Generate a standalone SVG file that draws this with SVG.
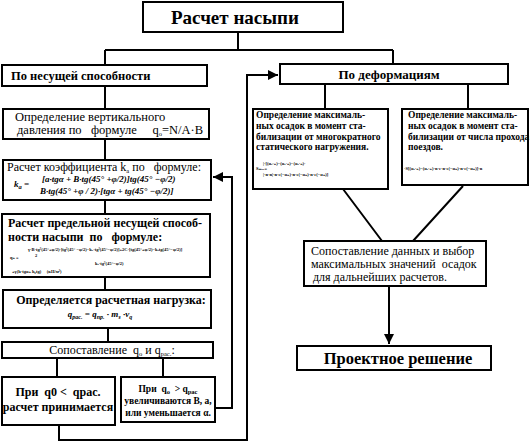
<svg xmlns="http://www.w3.org/2000/svg" width="530" height="443" viewBox="0 0 530 443" font-family="'Liberation Serif', 'DejaVu Serif', serif">
<style>
.b{fill:#fff;stroke:#000;stroke-width:2}
.c{fill:none;stroke:#000;stroke-width:2}
text{font-family:'Liberation Serif','DejaVu Serif',serif;fill:#000}
.t{font-size:12.5px}
.bd{font-weight:bold}
.f{font-style:italic;font-weight:bold;font-size:9px}
.tiny{font-size:4.5px;font-weight:bold}
.s{font-size:9.5px;font-weight:bold}
.sub{font-size:6.5px}
</style>
<defs>
<marker id="ar" viewBox="0 0 10 10" refX="10" refY="5" markerWidth="5" markerHeight="5" orient="auto" markerUnits="strokeWidth"><path d="M0,0 L10,5 L0,10 z" fill="#000"/></marker>
</defs>
<rect width="530" height="443" fill="#fff"/>
<g id="connectors">
<path class="c" d="M238,32 V50 M105,50 H393 M105,50 V65 M393,50 V64"/>
<path class="c" d="M105,86 V109 M105,139 V160 M105,200 V214 M105,277 V290 M108,328 V342 M57,358 V377 M163,358 V377"/>
<path class="c" d="M215,408 H232 V177 H213" marker-end="url(#ar)"/>
<path class="c" d="M59,425 V440 H247 V75 H278" marker-end="url(#ar)"/>
<path class="c" d="M325,84 V109 M468,84 V109"/>
<path class="c" d="M343,189 L382,241 M463,186 L413,241"/>
<path class="c" d="M389,286 V344" marker-end="url(#ar)"/>
</g>
<g id="n-main"><rect class="b" x="143" y="2" width="200" height="30"/><text x="235" y="24" text-anchor="middle" font-size="19" class="bd">Расчет насыпи</text></g>
<g id="n-bearing"><rect class="b" x="2" y="65" width="205" height="21"/><text x="11" y="80" font-size="12.5" class="bd">По несущей способности</text></g>
<g id="n-deform"><rect class="b" x="280" y="64" width="228" height="20"/><text x="389" y="79" text-anchor="middle" font-size="13" class="bd">По деформациям</text></g>
<g id="n-vert"><rect class="b" x="3" y="109" width="206" height="30"/>
<text x="15" y="121" class="t">Определение вертикального</text>
<text x="17" y="134" class="t" xml:space="preserve">давления по   формуле     q<tspan class="sub" dy="1.5">o</tspan><tspan dy="-1.5">=N/A·B</tspan></text></g>
<g id="n-koef"><rect class="b" x="3" y="160" width="208" height="40"/>
<text x="7" y="171" font-size="12" xml:space="preserve">Расчет коэффициента k<tspan class="sub" dy="1.5">a</tspan><tspan dy="-1.5"> по   формуле:</tspan></text>
<text x="14" y="187" class="f">k<tspan class="sub" dy="1.5">a</tspan><tspan dy="-1.5"> =</tspan></text>
<text x="42" y="182" class="f">[a·tgα + B·tg(45° +φ/2)]tg(45° −φ/2)</text>
<text x="40" y="194" class="f">B·tg(45° +φ / 2)·[tgα + tg(45° −φ/2)]</text></g>
<g id="n-limit"><rect class="b" x="2" y="214" width="208" height="63"/>
<text x="8" y="227" class="bd" font-size="12">Расчет предельной несущей способ-</text>
<text x="8" y="241" class="bd" font-size="12" xml:space="preserve">ности насыпи  по   формуле:</text>
<text x="28" y="251" class="tiny">γ·B·tg²(45°+φ/2)·[tg²(45° −φ/2)−kₐ·tg²(45°−φ/2)]+2C·[tg(45°+φ/2)−kₐtg(45°−φ/2)]</text>
<text x="35" y="257" class="tiny">2</text>
<text x="10" y="259" class="tiny">qₙ =</text>
<text x="95" y="265" class="tiny">kₐ·tg²(45°−φ/2)</text>
<text x="12" y="273" class="tiny" xml:space="preserve">+γ(h·tgα+ h₀tg)     (кН/м²)</text></g>
<g id="n-load"><rect class="b" x="3" y="290" width="208" height="38"/>
<text x="111" y="304" text-anchor="middle" class="bd" font-size="12">Определяется расчетная нагрузка:</text>
<text x="100" y="317" text-anchor="middle" class="f" font-size="10">q<tspan font-size="6" dy="2">рас.</tspan><tspan dy="-2"> = q</tspan><tspan font-size="6" dy="2">пр.</tspan><tspan dy="-2"> · m</tspan><tspan font-size="6" dy="2">з</tspan><tspan dy="-2"> ·ν</tspan><tspan font-size="6" dy="2">q</tspan></text></g>
<g id="n-compare"><rect class="b" x="2" y="342" width="211" height="16"/>
<text x="112" y="354" text-anchor="middle" font-size="12" xml:space="preserve">Сопоставление  q<tspan class="sub" dy="1.5">o</tspan><tspan dy="-1.5"> и q</tspan><tspan class="sub" dy="1.5">рас.</tspan><tspan dy="-1.5">:</tspan></text></g>
<g id="n-accept"><rect class="b" x="2" y="377" width="113" height="48"/>
<text x="58" y="396" text-anchor="middle" class="bd" font-size="12" xml:space="preserve">При  q0 &lt;  qрас.</text>
<text x="58" y="411" text-anchor="middle" class="bd" font-size="12">расчет принимается</text></g>
<g id="n-change"><rect class="b" x="121" y="377" width="94" height="45"/>
<text x="168" y="392" text-anchor="middle" class="s" font-size="10" xml:space="preserve">При  q<tspan class="sub" dy="1.5">o</tspan><tspan dy="-1.5">  &gt; q</tspan><tspan class="sub" dy="1.5">рас</tspan></text>
<text x="168" y="404" text-anchor="middle" class="s" font-size="8.5">увеличиваются В, а,</text>
<text x="168" y="416" text-anchor="middle" class="s" font-size="8.5">или уменьшается α.</text></g>
<g id="n-static"><rect class="b" x="253" y="109" width="135" height="80"/>
<text x="256" y="118" class="s" font-size="9.8">Определение максималь-</text>
<text x="256" y="129" class="s" font-size="9.8">ных осадок в момент ста-</text>
<text x="256" y="140" class="s" font-size="9.8">билизации от многократного</text>
<text x="256" y="150" class="s" font-size="9.8">статического нагружения.</text>
<text x="263" y="165" class="tiny">|·[(αₐ·ₙ)−(αₐ·ₙ)−(αₐ·ₙ)·</text>
<text x="256" y="170" class="tiny">Sₘₐₓ=</text>
<text x="263" y="176" class="tiny">|·n·n|·n·e(−αₙ)·n·e(−αₙ)·n·e(−αₙ)]</text></g>
<g id="n-trains"><rect class="b" x="402" y="109" width="126" height="76"/>
<text x="408" y="118" class="s" font-size="8.8">Определение максималь-</text>
<text x="408" y="129" class="s" font-size="8.8">ных осадок в момент ста-</text>
<text x="408" y="140" class="s" font-size="8.8">билизации от числа прохода</text>
<text x="408" y="150" class="s" font-size="8.8">поездов.</text>
<text x="404" y="170" class="tiny">·S[(αₐ·ₙ)−(αₐ·ₙ)·n·e·n·e(−αₙ)·n·e(−αₙ)]·n</text></g>
<g id="n-select"><rect class="b" x="304" y="241" width="182" height="45"/>
<text x="311" y="255" font-size="12">Сопоставление данных и выбор</text>
<text x="311" y="268" font-size="12" xml:space="preserve">максимальных значений  осадок</text>
<text x="313" y="281" font-size="12">для дальнейших расчетов.</text></g>
<g id="n-project"><rect class="b" x="297" y="346" width="194" height="24"/>
<text x="398" y="364" text-anchor="middle" font-size="16.5" class="bd">Проектное решение</text></g>
</svg>
